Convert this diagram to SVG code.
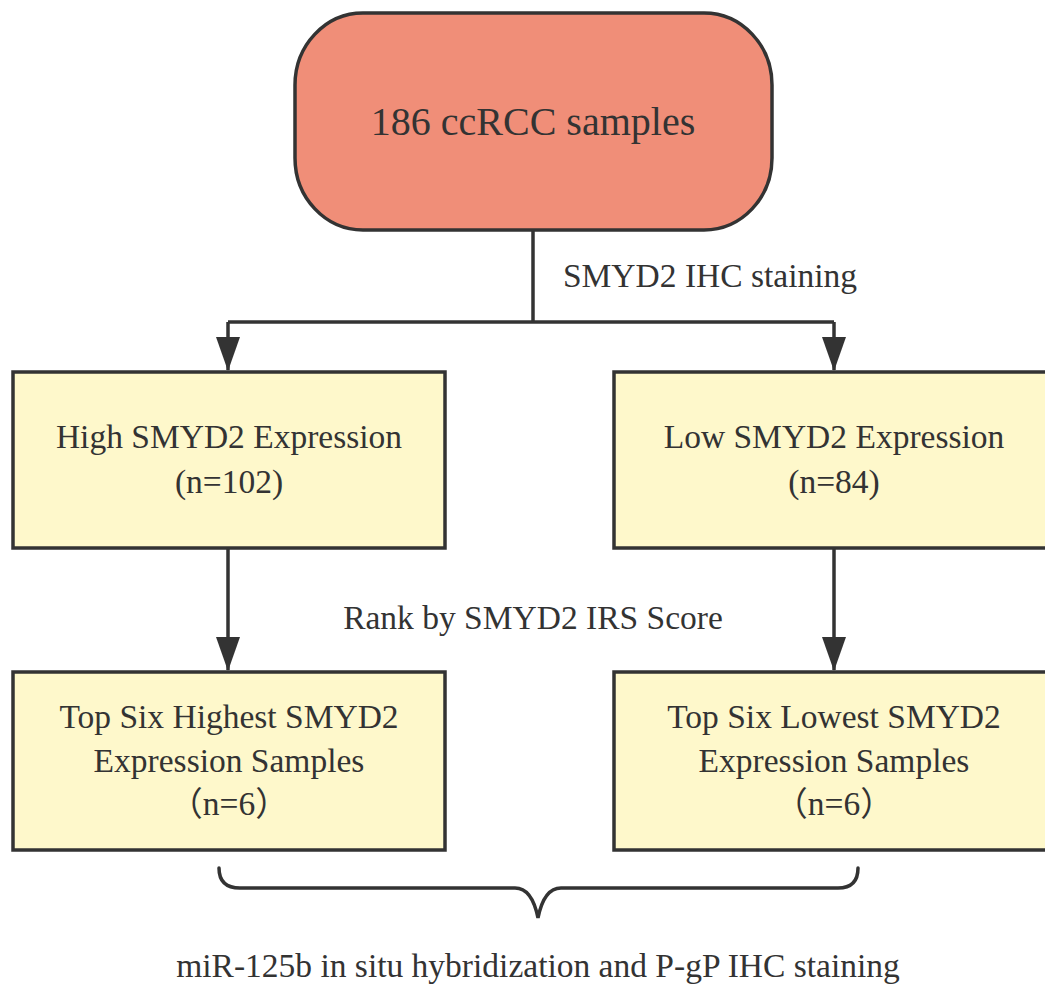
<svg xmlns="http://www.w3.org/2000/svg" width="1045" height="989" viewBox="0 0 1045 989">
<style>
  text { font-family: "Liberation Serif", "Noto Sans CJK SC", serif; fill: #333; text-anchor: middle; font-size: 33.5px; }
  .box { fill: #FEF8CB; stroke: #333; stroke-width: 3.5; }
  .start { fill: #F08E78; stroke: #333; stroke-width: 3.5; }
  .conn { fill: none; stroke: #333; stroke-width: 3.5; }
</style>
<defs>
  <marker id="arrow" markerUnits="userSpaceOnUse" markerWidth="24" markerHeight="34" refX="12" refY="33" orient="auto-start-reverse" viewBox="0 0 24 34">
    <path d="M0,0 L24,0 L12,34 Z" fill="#333" transform="rotate(0)"/>
  </marker>
  <marker id="ah" markerUnits="userSpaceOnUse" markerWidth="34" markerHeight="24" refX="33" refY="12" orient="auto" viewBox="0 0 34 24">
    <path d="M0,0 L34,12 L0,24 Z" fill="#333"/>
  </marker>
</defs>
<rect width="1045" height="989" fill="#fff"/>
<g id="connectors">
  <path class="conn" d="M533,230 V322"/>
  <path class="conn" d="M228,322 H834"/>
  <path class="conn" d="M228,322 V370" marker-end="url(#ah)"/>
  <path class="conn" d="M834,322 V370" marker-end="url(#ah)"/>
  <path class="conn" d="M228,548 V670" marker-end="url(#ah)"/>
  <path class="conn" d="M834,548 V670" marker-end="url(#ah)"/>
  <path class="conn" stroke-linecap="round" d="M219,868 Q219,888 240,888 H515 Q532,888 538,918 Q544,888 561,888 H838 Q858,888 858,868"/>
</g>
<g id="start">
  <rect class="start" x="295" y="13" width="477" height="217" rx="68" ry="72"/>
  <text x="533" y="135" style="font-size:40px">186 ccRCC samples</text>
</g>
<g id="high">
  <rect class="box" x="13" y="372" width="432" height="176"/>
  <text x="229" y="448">High SMYD2 Expression</text>
  <text x="229" y="493">(n=102)</text>
</g>
<g id="low">
  <rect class="box" x="614" y="372" width="440" height="176"/>
  <text x="834" y="448">Low SMYD2 Expression</text>
  <text x="834" y="493">(n=84)</text>
</g>
<g id="topHigh">
  <rect class="box" x="13" y="672" width="432" height="178"/>
  <text x="229" y="728">Top Six Highest SMYD2</text>
  <text x="229" y="772">Expression Samples</text>
  <text x="229" y="815">（n=6）</text>
</g>
<g id="topLow">
  <rect class="box" x="614" y="672" width="440" height="178"/>
  <text x="834" y="728">Top Six Lowest SMYD2</text>
  <text x="834" y="772">Expression Samples</text>
  <text x="834" y="815">（n=6）</text>
</g>
<g id="labels">
  <text x="710" y="287">SMYD2 IHC staining</text>
  <text x="533" y="629">Rank by SMYD2 IRS Score</text>
  <text x="538" y="977">miR-125b in situ hybridization and P-gP IHC staining</text>
</g>
</svg>
